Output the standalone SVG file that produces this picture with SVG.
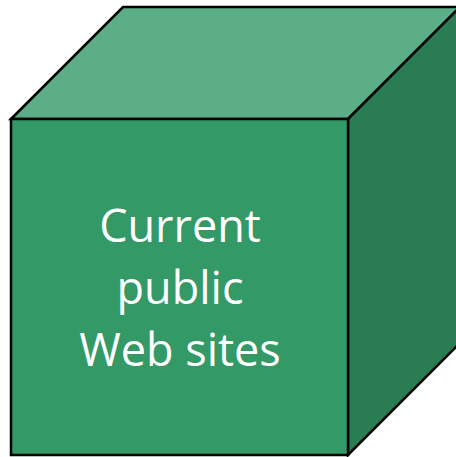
<svg xmlns="http://www.w3.org/2000/svg" width="456" height="457" viewBox="0 0 456 457">
<style>
.edge{stroke:#000;stroke-width:2.5;stroke-linejoin:miter}
.lbl{font-family:"Open Sans","Liberation Sans",sans-serif;font-size:45px;fill:#fff;text-anchor:middle}
</style>
<rect width="456" height="457" fill="#fff"/>
<g id="cube">
<polygon class="edge" points="11,119 123,7 460,7 348,119" fill="#5BAE85"/>
<polygon class="edge" points="348,119 460,7 460,343 348,455" fill="#2A7C53"/>
<rect class="edge" x="11" y="119" width="337" height="336" fill="#339966"/>
<text class="lbl"><tspan x="180" y="242">Current</tspan><tspan x="180" y="304">public</tspan><tspan x="180" y="366">Web sites</tspan></text>
</g>
</svg>
